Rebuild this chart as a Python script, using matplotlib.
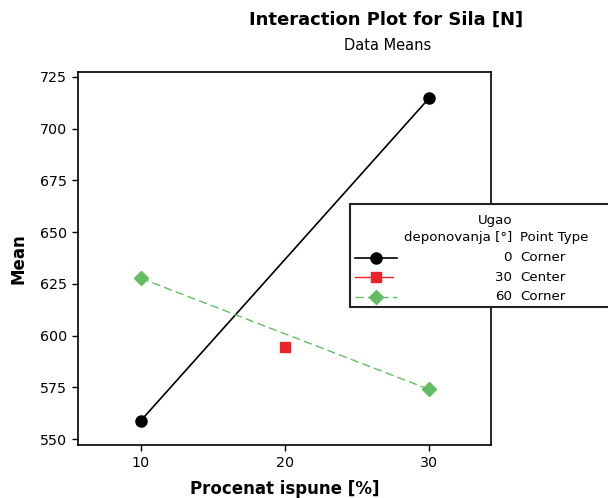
import matplotlib
matplotlib.use("Agg")
import matplotlib.pyplot as plt
from matplotlib.patches import Rectangle
from matplotlib.lines import Line2D

plt.rcParams['font.family'] = ['DejaVu Sans']

# Data means of force by infill percentage for each deposition angle
infill = [10, 20, 30]
angle_labels = ["0", "30", "60"]
point_types = ["Corner", "Center", "Corner"]
mean_0 = [558.8, None, 714.7]
mean_30 = [None, 594.6, None]
mean_60 = [627.7, None, 574.0]

x_ticks = [10, 20, 30]
y_ticks = [550, 575, 600, 625, 650, 675, 700, 725]

W, H = 608, 498
fig = plt.figure(figsize=(W / 100, H / 100), dpi=100)
ax = fig.add_axes([78 / W, 1 - 445 / H, (491 - 78) / W, (445 - 72) / H])

styles = [
    dict(color="black", marker="o", ms=8, ls="-", lw=1.2),
    dict(color="#e8232a", marker="s", ms=7, ls="-", lw=1.0),
    dict(color="#63be63", marker="D", ms=7, ls=(0, (6, 3)), lw=1.0),
]
series = [mean_0, mean_30, mean_60]
for vals, st in zip(series, styles):
    xs = [x for x, v in zip(infill, vals) if v is not None]
    ys = [v for v in vals if v is not None]
    ax.plot(xs, ys, color=st["color"], marker=st["marker"], ms=st["ms"],
            ls=st["ls"], lw=st["lw"], mec=st["color"], mfc=st["color"])

ax.set_xlim(5.65, 34.3)
ax.set_ylim(547.1, 727.4)
ax.set_xticks(x_ticks)
ax.set_yticks(y_ticks)
ax.tick_params(axis="both", direction="out", length=4.5, width=1, labelsize=10.3,
               pad=3.5, top=False, right=False, colors="black")
for s in ax.spines.values():
    s.set_linewidth(1.2)

ax.set_xlabel("Procenat ispune [%]", fontsize=12, fontweight="bold")
ax.set_ylabel("Mean", fontsize=12, fontweight="bold")
ax.xaxis.set_label_coords(0.5, (445 - 489) / (445 - 72))
ax.xaxis.label.set_va("center")
ax.yaxis.set_label_coords((18 - 78) / (491 - 78), 0.5)
ax.yaxis.label.set_va("center")

fig.text(386 / W, 1 - 20 / H, "Interaction Plot for Sila [N]", ha="center",
         va="center", fontsize=13, fontweight="bold")
fig.text(388 / W, 1 - 45 / H, "Data Means", ha="center", va="center", fontsize=10.5)

# Legend panel
lax = fig.add_axes([0, 0, 1, 1], facecolor="none")
lax.set_xlim(0, W)
lax.set_ylim(H, 0)
lax.axis("off")
lax.add_patch(Rectangle((350, 204), 300, 103, facecolor="white",
                        edgecolor="#222222", lw=1.5, clip_on=False))
fs = 9.6
lax.text(495, 220, "Ugao", ha="center", va="center", fontsize=fs)
lax.text(512, 237, "deponovanja [°]", ha="right", va="center", fontsize=fs)
lax.text(520, 237, "Point Type", ha="left", va="center", fontsize=fs)
rows_y = [257.5, 277, 296.5]
handle_ends = [397, 393, 397]
for y, lab, pt, st, x_end in zip(rows_y, angle_labels, point_types, styles, handle_ends):
    lax.add_line(Line2D([355, x_end], [y, y], color=st["color"], ls=st["ls"], lw=st["lw"]))
    lax.add_line(Line2D([376], [y], color=st["color"], marker=st["marker"], ms=st["ms"],
                        mfc=st["color"], mec=st["color"], ls="none"))
    lax.text(512, y, lab, ha="right", va="center", fontsize=fs)
    lax.text(520, y, pt, ha="left", va="center", fontsize=fs)

fig.savefig("out.png", dpi=100)
